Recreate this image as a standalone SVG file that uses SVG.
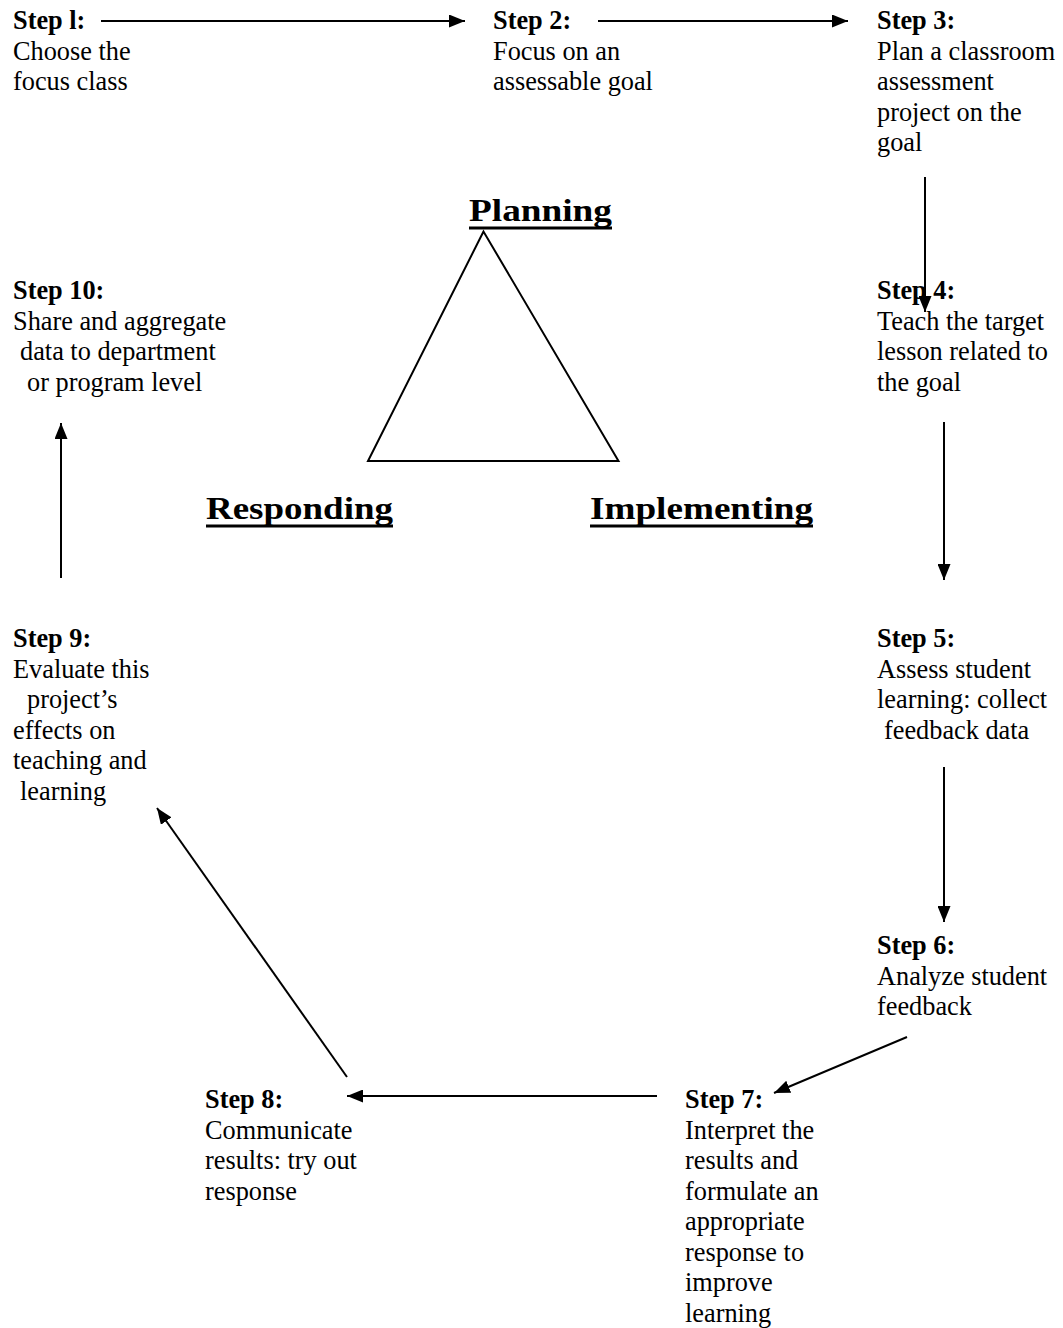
<svg xmlns="http://www.w3.org/2000/svg" width="1063" height="1328" viewBox="0 0 1063 1328">
<style>
  text { font-family: "Liberation Serif", "Times New Roman", serif; fill: #000; }
  .t { font-size: 26.3px; }
  .b { font-size: 26.3px; font-weight: bold; }
  .h { font-size: 31px; font-weight: bold; }
  .u { stroke: #000; stroke-width: 3; }
  .c line { stroke: #000; stroke-width: 2; marker-end: url(#ah); }
  .tri { fill: none; stroke: #000; stroke-width: 2; }
</style>
<defs>
  <marker id="ah" markerUnits="userSpaceOnUse" markerWidth="16" markerHeight="13" refX="16" refY="6.5" orient="auto">
    <path d="M0,0 L16,6.5 L0,13 z" fill="#000"/>
  </marker>
</defs>
<rect width="1063" height="1328" fill="#fff"/>

<g id="step1">
  <text class="b" x="13" y="29">Step l:</text>
  <text class="t" x="13" y="59.5">Choose the</text>
  <text class="t" x="13" y="90">focus class</text>
</g>
<g id="step2">
  <text class="b" x="493" y="29">Step 2:</text>
  <text class="t" x="493" y="59.5">Focus on an</text>
  <text class="t" x="493" y="90">assessable goal</text>
</g>
<g id="step3">
  <text class="b" x="877" y="29">Step 3:</text>
  <text class="t" x="877" y="59.5">Plan a classroom</text>
  <text class="t" x="877" y="90">assessment</text>
  <text class="t" x="877" y="120.5">project on the</text>
  <text class="t" x="877" y="151">goal</text>
</g>
<g id="step4">
  <text class="b" x="877" y="299">Step 4:</text>
  <text class="t" x="877" y="329.5">Teach the target</text>
  <text class="t" x="877" y="360">lesson related to</text>
  <text class="t" x="877" y="390.5">the goal</text>
</g>
<g id="step5">
  <text class="b" x="877" y="647">Step 5:</text>
  <text class="t" x="877" y="677.5">Assess student</text>
  <text class="t" x="877" y="708">learning: collect</text>
  <text class="t" x="884" y="738.5">feedback data</text>
</g>
<g id="step6">
  <text class="b" x="877" y="954">Step 6:</text>
  <text class="t" x="877" y="984.5">Analyze student</text>
  <text class="t" x="877" y="1015">feedback</text>
</g>
<g id="step7">
  <text class="b" x="685" y="1108">Step 7:</text>
  <text class="t" x="685" y="1138.5">Interpret the</text>
  <text class="t" x="685" y="1169">results and</text>
  <text class="t" x="685" y="1199.5">formulate an</text>
  <text class="t" x="685" y="1230">appropriate</text>
  <text class="t" x="685" y="1260.5">response to</text>
  <text class="t" x="685" y="1291">improve</text>
  <text class="t" x="685" y="1321.5">learning</text>
</g>
<g id="step8">
  <text class="b" x="205" y="1108">Step 8:</text>
  <text class="t" x="205" y="1138.5">Communicate</text>
  <text class="t" x="205" y="1169">results: try out</text>
  <text class="t" x="205" y="1199.5">response</text>
</g>
<g id="step9">
  <text class="b" x="13" y="647">Step 9:</text>
  <text class="t" x="13" y="677.5">Evaluate this</text>
  <text class="t" x="27" y="708">project’s</text>
  <text class="t" x="13" y="738.5">effects on</text>
  <text class="t" x="13" y="769">teaching and</text>
  <text class="t" x="20" y="799.5">learning</text>
</g>
<g id="step10">
  <text class="b" x="13" y="299">Step 10:</text>
  <text class="t" x="13" y="329.5">Share and aggregate</text>
  <text class="t" x="20" y="360">data to department</text>
  <text class="t" x="27" y="390.5">or program level</text>
</g>

<g id="cycle">
  <polygon class="tri" points="483.5,231.5 368,461 618.5,461"/>
  <g id="planning">
    <text class="h" x="469" y="221" textLength="143" lengthAdjust="spacingAndGlyphs">Planning</text>
    <line class="u" x1="469" y1="228" x2="612" y2="228"/>
  </g>
  <g id="responding">
    <text class="h" x="206" y="519" textLength="187" lengthAdjust="spacingAndGlyphs">Responding</text>
    <line class="u" x1="206" y1="526" x2="393" y2="526"/>
  </g>
  <g id="implementing">
    <text class="h" x="590" y="519" textLength="223" lengthAdjust="spacingAndGlyphs">Implementing</text>
    <line class="u" x1="590" y1="526" x2="813" y2="526"/>
  </g>
</g>

<g id="connectors" class="c">
  <line x1="101" y1="21" x2="465" y2="21"/>
  <line x1="598" y1="21" x2="848" y2="21"/>
  <line x1="925" y1="177" x2="925" y2="312"/>
  <line x1="944" y1="422" x2="944" y2="580"/>
  <line x1="944" y1="767" x2="944" y2="922"/>
  <line x1="907" y1="1037" x2="774" y2="1093"/>
  <line x1="657" y1="1096" x2="347" y2="1096"/>
  <line x1="347" y1="1077" x2="157" y2="808"/>
  <line x1="61" y1="578" x2="61" y2="423"/>
</g>
</svg>
